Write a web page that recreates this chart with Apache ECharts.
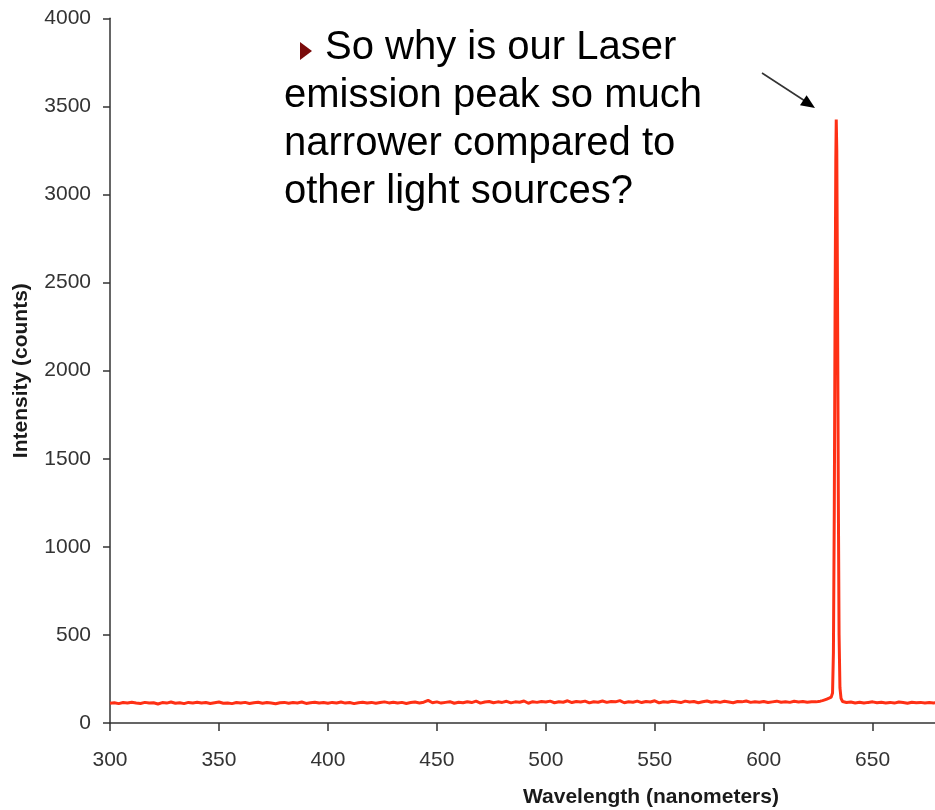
<!DOCTYPE html>
<html>
<head>
<meta charset="utf-8">
<script src="https://cdn.jsdelivr.net/npm/echarts@6/dist/echarts.min.js"></script>
<style>
html,body{margin:0;padding:0;background:#fff;}
#chart{width:935px;height:810px;}
</style>
</head>
<body>
<div id="chart"></div>
<script>
// Wavelengths (nm) sampled along the spectrum
const wavelengths = [
  300,302,304,306,308,310,312,314,316,318,
  320,322,324,326,328,330,332,334,336,338,
  340,342,344,346,348,350,352,354,356,358,
  360,362,364,366,368,370,372,374,376,378,
  380,382,384,386,388,390,392,394,396,398,
  400,402,404,406,408,410,412,414,416,418,
  420,422,424,426,428,430,432,434,436,438,
  440,442,444,446,448,450,452,454,456,458,
  460,462,464,466,468,470,472,474,476,478,
  480,482,484,486,488,490,492,494,496,498,
  500,502,504,506,508,510,512,514,516,518,
  520,522,524,526,528,530,532,534,536,538,
  540,542,544,546,548,550,552,554,556,558,
  560,562,564,566,568,570,572,574,576,578,
  580,582,584,586,588,590,592,594,596,598,
  600,602,604,606,608,610,612,614,616,618,
  620,622,624,626,
  627,628,629,630,631,631.6,632.0,632.4,632.75,633.1,633.3,633.55,633.9,634.25,634.6,635.0,635.5,636.2,637,
  638,640,642,644,646,648,650,652,654,656,
  658,660,662,664,666,668,670,672,674,676,
  678,680
];
// Intensity (counts)
const intensity = [
  112,115,110,116,113,118,114,111,117,113,
  115,108,116,113,119,112,115,110,117,114,
  118,113,116,111,115,119,112,114,110,116,
  113,117,111,115,118,112,116,113,109,115,
  117,112,116,114,119,111,115,118,113,116,
  112,117,114,119,113,116,110,115,118,114,
  117,112,116,120,114,118,113,117,111,116,
  119,114,118,128,115,120,113,117,121,112,
  118,115,121,116,124,113,119,122,115,120,
  117,123,114,120,118,125,112,121,117,122,
  119,124,115,121,118,126,116,122,119,124,
  114,121,118,125,117,122,120,127,115,121,
  118,124,116,122,119,126,114,121,118,123,
  120,116,124,119,122,115,121,125,118,122,
  117,123,119,115,122,120,125,117,121,118,
  122,116,120,124,118,121,117,123,119,122,
  118,121,120,124,
  127,131,136,141,147,170,400,1200,2300,3200,3425,3250,2400,1300,500,200,140,122,118,
  116,119,114,118,113,117,120,115,118,114,
  117,113,119,116,112,118,115,117,113,116,
  114,117
];
const xTicks = [300, 350, 400, 450, 500, 550, 600, 650];
const yTicks = [0, 500, 1000, 1500, 2000, 2500, 3000, 3500, 4000];
const xName = 'Wavelength (nanometers)';
const yName = 'Intensity (counts)';
const noteLines = ['So why is our Laser', 'emission peak so much', 'narrower compared to', 'other light sources?'];

const FONT = "'Liberation Sans', Arial, Helvetica, sans-serif";
const chart = echarts.init(document.getElementById('chart'), null, {renderer: 'canvas'});
const seriesData = wavelengths.map((w, i) => [w, intensity[i]]);

chart.setOption({
  animation: false,
  backgroundColor: '#ffffff',
  grid: {left: 110, right: -3, top: 18.3, bottom: 87, containLabel: false, outerBoundsMode: 'none'},
  xAxis: {
    type: 'value',
    min: 300, max: 680, interval: 50,
    axisLine: {show: true, onZero: false, lineStyle: {color: '#333', width: 1.5}},
    axisTick: {show: true, inside: false, length: 8, lineStyle: {color: '#333', width: 1.5}},
    axisLabel: {
      color: '#333', fontSize: 21, fontFamily: FONT, margin: 27,
      formatter: v => (xTicks.indexOf(v) >= 0 ? String(v) : '')
    },
    splitLine: {show: false}
  },
  yAxis: {
    type: 'value',
    min: 0, max: 4000, interval: 500,
    name: yName, nameLocation: 'middle', nameGap: 78,
    nameTextStyle: {color: '#1a1a1a', fontSize: 21, fontWeight: 'bold', fontFamily: FONT},
    axisLine: {show: true, lineStyle: {color: '#333', width: 1.5}},
    axisTick: {show: true, inside: false, length: 7, lineStyle: {color: '#333', width: 1.5}},
    axisLabel: {
      color: '#333', fontSize: 21, fontFamily: FONT, margin: 19,
      formatter: v => (yTicks.indexOf(v) >= 0 ? String(v) : '')
    },
    splitLine: {show: false}
  },
  series: [{
    type: 'line',
    data: seriesData,
    showSymbol: false,
    symbol: 'none',
    lineStyle: {color: '#fe3015', width: 3},
    z: 3
  }],
  graphic: [
    {type: 'text', x: 651, y: 797, style: {text: xName, fill: '#1a1a1a', font: 'bold 21px ' + FONT, textAlign: 'center', textVerticalAlign: 'middle'}},
    {type: 'polygon', shape: {points: [[300, 42], [300, 60], [312, 51]]}, style: {fill: '#7a0b0b'}},
    {type: 'text', x: 325, y: 48, style: {text: noteLines[0], fill: '#000', font: '40px ' + FONT, textAlign: 'left', textVerticalAlign: 'middle'}},
    {type: 'text', x: 284, y: 96, style: {text: noteLines[1], fill: '#000', font: '40px ' + FONT, textAlign: 'left', textVerticalAlign: 'middle'}},
    {type: 'text', x: 284, y: 144, style: {text: noteLines[2], fill: '#000', font: '40px ' + FONT, textAlign: 'left', textVerticalAlign: 'middle'}},
    {type: 'text', x: 284, y: 192, style: {text: noteLines[3], fill: '#000', font: '40px ' + FONT, textAlign: 'left', textVerticalAlign: 'middle'}},
    {type: 'line', shape: {x1: 762, y1: 73, x2: 805, y2: 101}, style: {stroke: '#333', lineWidth: 1.6}},
    {type: 'polygon', shape: {points: [[806.6, 95.3], [800, 105.3], [815, 108]]}, style: {fill: '#000'}}
  ]
});
</script>
</body>
</html>
